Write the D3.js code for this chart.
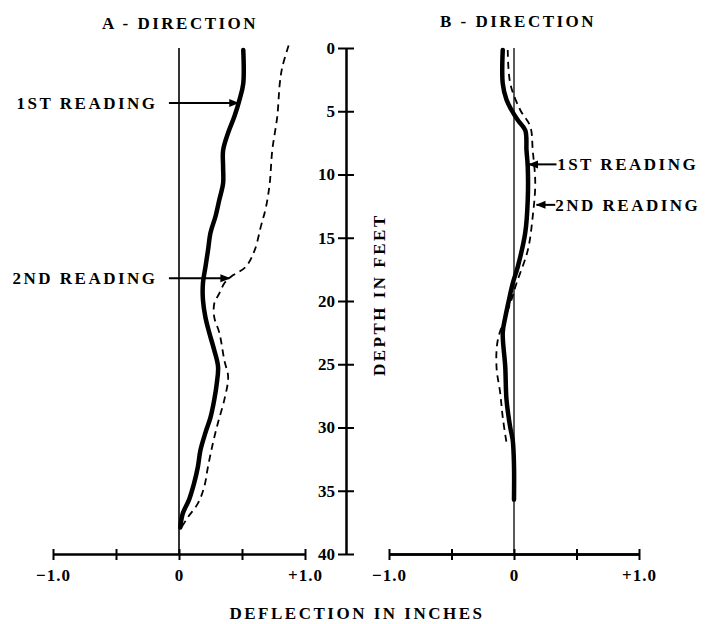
<!DOCTYPE html>
<html><head><meta charset="utf-8">
<script src="https://cdn.jsdelivr.net/npm/d3@7"></script>
<style>
body{margin:0;background:#fff}
svg{display:block}
text{font-family:"Liberation Serif","Times New Roman",serif;font-weight:bold;fill:#000}
</style>
</head><body>
<svg id="c" width="706" height="624"></svg>
<script>
// ---- data ----
const depthTicks = [0, 5, 10, 15, 20, 25, 30, 35, 40];
const deflTicks = [-1, -0.5, 0, 0.5, 1];
const deflTickText = {"-1": "\u22121.0", "0": "0", "1": "+1.0"};
const panelTitles = ["A - DIRECTION", "B - DIRECTION"];
const yTitle = "DEPTH IN FEET";
const xTitle = "DEFLECTION IN INCHES";

// A direction, 1st reading (solid)
const aFirstDepth = [0.15,2.8,4.1,5.4,6.7,8.1,9.4,10.7,12.0,13.3,14.6,16.0,17.3,18.6,19.9,21.3,22.5,23.9,25.2,26.5,27.8,29.2,30.4,31.8,33.1,34.4,35.7,36.8,37.9];
const aFirstDefl  = [0.51,0.51,0.48,0.44,0.39,0.35,0.35,0.35,0.32,0.29,0.25,0.23,0.21,0.19,0.19,0.21,0.24,0.28,0.31,0.30,0.28,0.25,0.21,0.17,0.15,0.12,0.08,0.03,0.01];
// A direction, 2nd reading (dashed)
const aSecondDepth = [-0.2,1.5,2.8,5.4,8.1,10.7,12.6,14.1,16.0,17.3,18.1,18.6,19.4,20.2,21.3,22.5,24.7,26.0,27.8,29.6,31.2,33.1,34.7,36.0,37.1,37.9];
const aSecondDefl  = [0.87,0.82,0.80,0.78,0.74,0.72,0.69,0.65,0.60,0.53,0.41,0.36,0.32,0.28,0.28,0.32,0.36,0.39,0.36,0.31,0.27,0.23,0.20,0.15,0.07,0.02];
// B direction, 1st reading (solid)
const bFirstDepth = [0.15,2.8,4.1,4.9,5.7,6.5,8.1,9.4,12.0,14.6,17.3,18.6,19.9,21.3,22.5,25.2,27.8,30.0,31.0,33.0,35.7];
const bFirstDefl  = [-0.09,-0.09,-0.06,-0.02,0.03,0.09,0.10,0.11,0.11,0.09,0.03,-0.01,-0.04,-0.07,-0.09,-0.07,-0.06,-0.03,-0.01,0,0];
// B direction, 2nd reading (dashed)
const bSecondDepth = [0.15,2.8,4.9,6.2,8.1,10.7,13.3,16.0,18.6,19.9,21.3,23.1,25.2,27.3,29.2,31.2];
const bSecondDefl  = [-0.05,-0.03,0.05,0.13,0.15,0.17,0.15,0.11,0.02,-0.02,-0.07,-0.13,-0.14,-0.11,-0.09,-0.06];

// annotations
const annoPanel = [0, 0, 1, 1];
const annoText  = ["1ST READING", "2ND READING", "1ST READING", "2ND READING"];
const annoDepth = [4.35, 18.2, 9.2, 12.4];
const annoFrom  = [-0.08, -0.08, 0.34, 0.33];
const annoTo    = [0.47, 0.40, 0.12, 0.18];
const annoTextAt = [-0.17, -0.17, 0.345, 0.33];

// ---- drawing ----
const svg = d3.select("#c");
const y = d3.scaleLinear().domain([0, 40]).range([48, 554]);
const xs = [
  d3.scaleLinear().domain([-1, 1]).range([53, 305]),
  d3.scaleLinear().domain([-1, 1]).range([389, 639])
];
const axisX = 346;
const FS = "17px", LS = "2.5px";

svg.append("defs").append("marker")
  .attr("id", "arr").attr("viewBox", "0 0 10 10").attr("refX", 9).attr("refY", 5)
  .attr("markerWidth", 5).attr("markerHeight", 5).attr("orient", "auto-start-reverse")
  .append("path").attr("d", "M0,1 L10,5 L0,9 Z").attr("fill", "#000");

function styleAxis(g, sw) {
  g.attr("font-family", null).attr("font-size", null);
  g.selectAll("path.domain").attr("stroke", "#000").attr("stroke-width", sw);
  g.selectAll(".tick line").attr("stroke", "#000").attr("stroke-width", 2);
  g.selectAll(".tick text").style("font-size", FS);
}

// depth axis
const gl = svg.append("g").attr("transform", `translate(${axisX},0)`)
  .call(d3.axisLeft(y).tickValues(depthTicks).tickSize(8).tickSizeOuter(0).tickPadding(3));
styleAxis(gl, 2);
const gr = svg.append("g").attr("transform", `translate(${axisX},0)`)
  .call(d3.axisRight(y).tickValues(depthTicks).tickSize(8).tickSizeOuter(0).tickFormat(""));
styleAxis(gr, 2);

svg.append("text")
  .attr("transform", `translate(385,${y(19.5)}) rotate(-90)`)
  .attr("text-anchor", "middle").style("font-size", FS).style("letter-spacing", LS)
  .text(yTitle);

const series = [
  [[aFirstDepth, aFirstDefl], [aSecondDepth, aSecondDefl]],
  [[bFirstDepth, bFirstDefl], [bSecondDepth, bSecondDefl]]
];
const titleBase = [29, 27];

xs.forEach((x, i) => {
  // zero reference line
  svg.append("line")
    .attr("x1", x(0)).attr("x2", x(0)).attr("y1", y(0)).attr("y2", y(40))
    .attr("stroke", "#000").attr("stroke-width", i === 0 ? 1.6 : 1.3);

  // bottom axis
  const gb = svg.append("g").attr("transform", `translate(0,${y(40)})`)
    .call(d3.axisBottom(x).tickValues(deflTicks).tickSize(6).tickSizeOuter(0).tickPadding(9)
      .tickFormat(d => deflTickText[String(d)] || ""));
  styleAxis(gb, i === 0 ? 2 : 2.6);
  gb.selectAll(".tick text").style("letter-spacing", "1px");
  const gt = svg.append("g").attr("transform", `translate(0,${y(40)})`)
    .call(d3.axisTop(x).tickValues(deflTicks).tickSize(5).tickSizeOuter(0).tickFormat(""));
  styleAxis(gt, i === 0 ? 2 : 2.6);

  // title
  svg.append("text").attr("x", (x.range()[0] + x.range()[1]) / 2 + (i === 0 ? 1 : 4))
    .attr("y", titleBase[i]).attr("text-anchor", "middle")
    .style("font-size", FS).style("letter-spacing", LS).text(panelTitles[i]);

  // curves
  const [first, second] = series[i];
  const line = d3.line().x(d => x(d[1])).y(d => y(d[0])).curve(d3.curveCatmullRom.alpha(0.5));
  svg.append("path").datum(second[0].map((dp, k) => [dp, second[1][k]]))
    .attr("d", line).attr("fill", "none").attr("stroke", "#000")
    .attr("stroke-width", 1.8).attr("stroke-dasharray", "7,5");
  svg.append("path").datum(first[0].map((dp, k) => [dp, first[1][k]]))
    .attr("d", line).attr("fill", "none").attr("stroke", "#000")
    .attr("stroke-width", 4.5).attr("stroke-linejoin", "round").attr("stroke-linecap", "round");
});

// annotations
annoText.forEach((t, k) => {
  const x = xs[annoPanel[k]];
  const yy = y(annoDepth[k]);
  svg.append("line")
    .attr("x1", x(annoFrom[k])).attr("x2", x(annoTo[k])).attr("y1", yy).attr("y2", yy)
    .attr("stroke", "#000").attr("stroke-width", 2).attr("marker-end", "url(#arr)");
  svg.append("text")
    .attr("x", x(annoTextAt[k])).attr("y", yy + 6)
    .attr("text-anchor", annoPanel[k] === 0 ? "end" : "start")
    .style("font-size", FS).style("letter-spacing", LS).text(t);
});

// x title
svg.append("text").attr("x", 357).attr("y", 619).attr("text-anchor", "middle")
  .style("font-size", FS).style("letter-spacing", LS).text(xTitle);
</script>
</body></html>
